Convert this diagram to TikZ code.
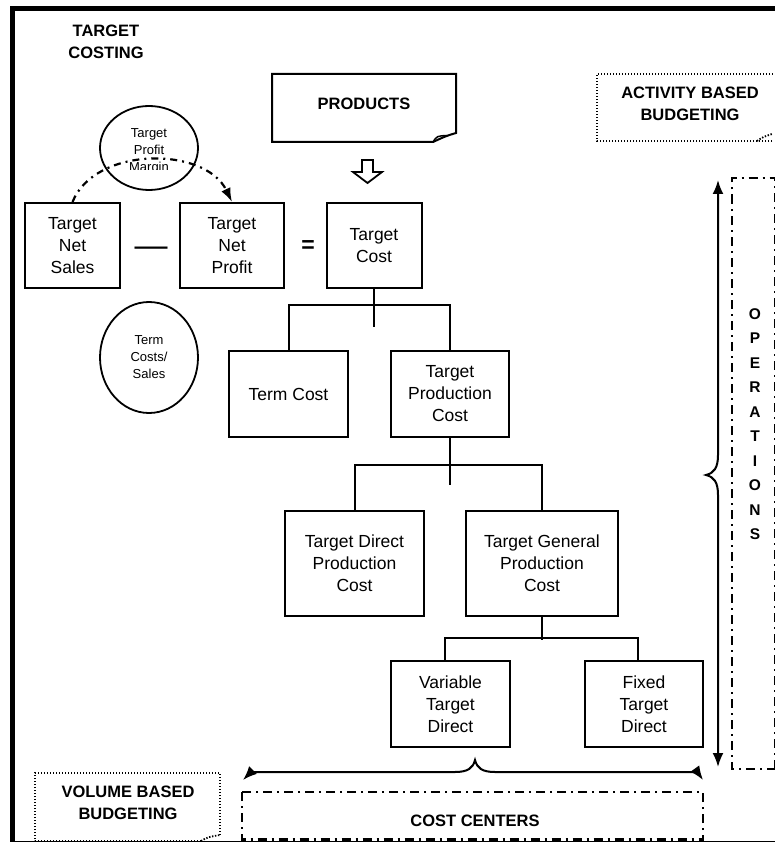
\documentclass[tikz,border=0pt]{standalone}
\usepackage{fontspec}
\setmainfont{Liberation Sans}
\usetikzlibrary{arrows.meta,shapes.geometric}

\begin{document}
\begin{tikzpicture}[x=1pt,y=-1pt,line join=miter,
  costbox/.style={draw,line width=2pt,align=center,inner sep=0pt,font=\fontsize{17.5}{22}\selectfont},
  ratiobubble/.style={draw,ellipse,line width=1.8pt,inner sep=0pt,align=center,font=\fontsize{13}{17}\selectfont},
  heading/.style={align=center,font=\bfseries\fontsize{16.5}{22}\selectfont},
  link/.style={line width=2pt},
  dotframe/.style={line width=1.8pt,dash pattern=on 1.4pt off 1.6pt},
  dashdotframe/.style={line width=2.2pt,dash pattern=on 9pt off 5pt on 2pt off 5pt},
  bracearrow/.style={line width=2pt,{Latex[length=14pt,width=11pt]}-{Latex[length=14pt,width=11pt]}}]
  \useasboundingbox (0,0) rectangle (775,842);
  \fill[white] (0,0) rectangle (775,842);
  \draw[line width=5pt] (780,8.5) -- (12.5,8.5) -- (12.5,843.5) -- (780,843.5);

  \node[heading] (title) at (106,42) {TARGET\\COSTING};

  % products sheet with its folded corner
  \draw[link] (272,74) -- (456,74) -- (456,133) .. controls (446,136) .. (433,142) -- (272,142) -- cycle;
  \draw[line width=1.5pt] (433,142) .. controls (437,136) .. (447,135.5);
  \node[heading] (products) at (364,104) {PRODUCTS};
  \draw[line width=1.8pt] (362,160) -- (373,160) -- (373,172) -- (382,172) -- (367.5,183) -- (353,172) -- (362,172) -- cycle;

  \draw[dotframe] (772,141) -- (597,141) -- (597,74) -- (778,74);
  \draw[dotframe] (757,141) .. controls (763,137) .. (772,134);
  \node[heading] (activity) at (690,104) {ACTIVITY BASED\\BUDGETING};

  % equation row
  \node[costbox,minimum width=95,minimum height=85] (netsales) at (72.5,245.5) {Target\\Net\\Sales};
  \node[costbox,minimum width=104,minimum height=85] (netprofit) at (232,245.5) {Target\\Net\\Profit};
  \node[costbox,minimum width=95,minimum height=85] (targetcost) at (374,245.5) {Target\\Cost};
  \node[font=\fontsize{33}{33}\selectfont] (minus) at (151,252) {—};
  \node[font=\bfseries\fontsize{23}{23}\selectfont] (equals) at (308,247) {=};

  \node[ratiobubble,minimum width=98,minimum height=84] (margin) at (149,148) {};
  \begin{scope}
    \clip (100,100) rectangle (200,170);
    \node[align=center,font=\fontsize{13}{17}\selectfont] (margintext) at (149,151) {Target\\Profit\\Margin};
  \end{scope}
  \draw[line width=2.2pt,dash pattern=on 7pt off 5pt on 2pt off 5pt,-{Latex[length=14pt,width=10pt]}]
    (netsales.north) .. controls (95,146) and (205,146) .. (netprofit.north);
  \node[ratiobubble,minimum width=98,minimum height=111] (termratio) at (149,357.5) {Term\\Costs/\\Sales};

  % cost tree
  \node[costbox,minimum width=119,minimum height=86] (termcost) at (288.5,394) {Term Cost};
  \node[costbox,minimum width=118,minimum height=86] (prodcost) at (450,394) {Target\\Production\\Cost};
  \node[costbox,minimum width=139,minimum height=105] (directcost) at (354.5,563.5) {Target Direct\\Production\\Cost};
  \node[costbox,minimum width=152,minimum height=105] (generalcost) at (542,563.5) {Target General\\Production\\Cost};
  \node[costbox,minimum width=119,minimum height=86] (variable) at (450.5,704) {Variable\\Target\\Direct};
  \node[costbox,minimum width=118,minimum height=86] (fixed) at (644,704) {Fixed\\Target\\Direct};
  \draw[link] (targetcost.south) -- ++(0,38);
  \draw[link] (termcost.north) -- ++(0,-45) -| (prodcost.north);
  \draw[link] (prodcost.south) -- ++(0,47);
  \draw[link] (directcost.north) -- ++(0,-45) -| (generalcost.north);
  \draw[link] (generalcost.south) -- ++(0,23);
  \draw[link] ([xshift=-6]variable.north) -- ++(0,-22) -| ([xshift=-6]fixed.north);

  % operations column
  \draw[dashdotframe] (775.5,769) -- (732,769) -- (732,178) -- (775.5,178) -- cycle;
  \node[align=center,font=\bfseries\fontsize{15.5}{24.5}\selectfont] (operations) at (755,424) {O\\P\\E\\R\\A\\T\\I\\O\\N\\S};
  \draw[bracearrow] (718,180) -- (718,455) .. controls (718,468) and (714,473) .. (706,475)
    .. controls (714,477) and (718,482) .. (718,495) -- (718,767);

  % bottom row
  \draw[bracearrow] (243,780) .. controls (250,773) and (255,772) .. (265,772) -- (455,772)
    .. controls (468,772) and (473,768) .. (475,760) .. controls (477,768) and (482,772) .. (495,772)
    -- (683,772) .. controls (693,772) and (698,773) .. (703,780);
  \draw[dashdotframe] (242,792) rectangle (703,839.5);
  \node[heading] (costcenters) at (475,821) {COST CENTERS};
  \draw[dotframe] (201,841) -- (35,841) -- (35,773) -- (220,773) -- (220,835);
  \draw[dotframe] (201,841) .. controls (208,837) .. (220,835);
  \node[heading] (volume) at (128,803) {VOLUME BASED\\BUDGETING};
\end{tikzpicture}
\end{document}
